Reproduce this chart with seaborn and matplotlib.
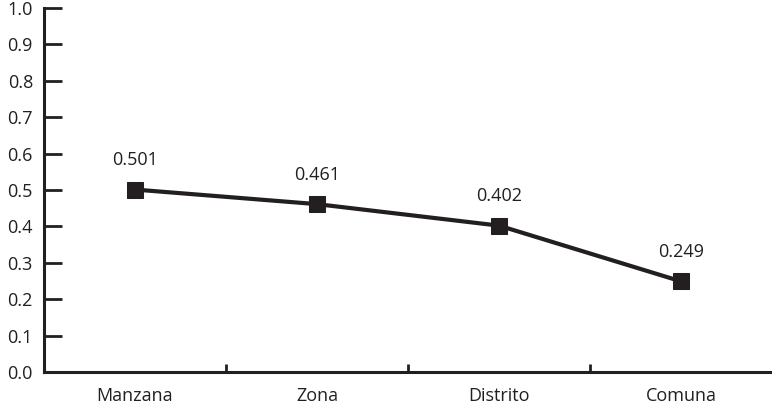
import numpy as np
import pandas as pd
import matplotlib.pyplot as plt
import seaborn as sns

categories = ["Manzana", "Zona", "Distrito", "Comuna"]
values = [0.501, 0.461, 0.402, 0.249]
labels = ["0.501", "0.461", "0.402", "0.249"]

sns.set_style("white")
plt.rcParams['font.family'] = ['Open Sans', 'DejaVu Sans']

ink = "#231f20"
df = pd.DataFrame({"x": np.arange(len(categories)), "y": values})

fig = plt.figure(figsize=(7.72, 4.12), dpi=100)
ax = fig.add_axes([0.057, 0.097, 0.943, 0.884])

sns.lineplot(data=df, x="x", y="y", ax=ax, color=ink, linewidth=3,
             marker="s", markersize=12, markeredgecolor=ink, markerfacecolor=ink)

for i, (v, t) in enumerate(zip(values, labels)):
    ax.annotate(t, (i, v), xytext=(0, 21), textcoords="offset points",
                ha="center", va="center", fontsize=13, color=ink)

ax.set_xlim(-0.5, 3.5)
ax.set_ylim(0, 1.0)
ax.set_yticks(np.arange(0, 1.01, 0.1))
ax.set_yticklabels([f"{v:.1f}" for v in np.arange(0, 1.01, 0.1)])
ax.set_xticks(range(len(categories)))
ax.set_xticklabels(categories)
ax.set_xticks([0.5, 1.5, 2.5], minor=True)
ax.tick_params(axis="x", which="major", bottom=True, length=0, labelsize=13,
               colors=ink, pad=11)
ax.tick_params(axis="x", which="minor", bottom=True, direction="in", length=6,
               width=2, color=ink)
ax.tick_params(axis="y", left=True, direction="in", length=13, width=2, color=ink,
               labelsize=13, labelcolor=ink, pad=8)
ax.set_xlabel("")
ax.set_ylabel("")

for s in ["top", "right"]:
    ax.spines[s].set_visible(False)
for s in ["left", "bottom"]:
    ax.spines[s].set_color(ink)
    ax.spines[s].set_linewidth(2.2)

fig.savefig("out.png", dpi=100)
